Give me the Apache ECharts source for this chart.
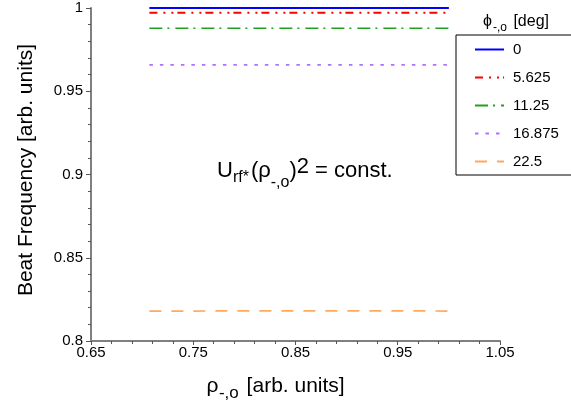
<!DOCTYPE html>
<html>
<head>
<meta charset="utf-8">
<script src="https://cdn.jsdelivr.net/npm/echarts@6/dist/echarts.min.js"></script>
<style>
  html, body { margin: 0; padding: 0; background: #fff; }
  #chart { width: 571px; height: 404px; }
</style>
</head>
<body>
<div id="chart"></div>
<script>
// Radial position rho_{-,o} (arb. units)
const rho = [0.7071, 0.75, 0.8, 0.85, 0.9, 0.95, 1.0];

// Legend entries: phi_{-,o} in degrees
const phiLabels = ['0', '5.625', '11.25', '16.875', '22.5'];

// Beat frequency (arb. units) for each phi, at the rho positions above
const beat0      = [1.0000, 1.0000, 1.0000, 1.0000, 1.0000, 1.0000, 1.0000];
const beat5625   = [0.9972, 0.9972, 0.9972, 0.9972, 0.9972, 0.9972, 0.9972];
const beat1125   = [0.9878, 0.9878, 0.9878, 0.9878, 0.9878, 0.9878, 0.9878];
const beat16875  = [0.9659, 0.9659, 0.9659, 0.9659, 0.9659, 0.9659, 0.9659];
const beat225    = [0.8180, 0.8180, 0.8181, 0.8181, 0.8181, 0.8181, 0.8180];

const FONT = '"Liberation Sans", Arial, Helvetica, "DejaVu Sans", sans-serif';

const seriesStyles = [
  { values: beat0,     color: '#0000ff', width: 2,   dash: 'solid' },
  { values: beat5625,  color: '#ff0000', width: 2,   dash: [8, 6, 2, 6, 2, 4] },
  { values: beat1125,  color: '#20a020', width: 1.5, dash: [13, 5, 2, 6] },
  { values: beat16875, color: '#b070ff', width: 1.8, dash: [3.5, 7] },
  { values: beat225,   color: '#ffa860', width: 1.7, dash: [12, 10] }
];

// Text with sub/superscripts: a row of plain text pieces laid out left to right,
// each piece following the previous one (optionally nudged by dx).
const measureCtx = document.createElement('canvas').getContext('2d');
function textWidth(t, size) {
  measureCtx.font = size + 'px ' + FONT;
  return measureCtx.measureText(t).width;
}
function scriptedText(x, baseline, parts) {
  const children = [];
  let cx = x;
  parts.forEach(p => {
    cx += p.dx || 0;
    children.push({
      type: 'text',
      silent: true,
      style: {
        text: p.t,
        x: cx,
        y: baseline + (p.dy || 0) - 0.3465 * p.s,
        font: p.s + 'px ' + FONT,
        fill: '#000',
        align: 'left',
        verticalAlign: 'middle'
      }
    });
    cx += textWidth(p.t, p.s);
  });
  return { type: 'group', children: children };
}

const chart = echarts.init(document.getElementById('chart'), null, { renderer: 'canvas' });

const axisGray = '#808080';
const tickGray = '#555555';

chart.setOption({
  animation: false,
  backgroundColor: '#ffffff',
  grid: { left: 91, right: 71, top: 8, bottom: 63 },
  xAxis: {
    type: 'value',
    min: 0.65,
    max: 1.05,
    interval: 0.1,
    axisLine: { show: true, lineStyle: { color: axisGray, width: 2 } },
    axisTick: { show: true, length: 4, lineStyle: { color: tickGray, width: 1 } },
    minorTick: { show: true, splitNumber: 5, length: 3, lineStyle: { color: tickGray, width: 1 } },
    splitLine: { show: false },
    axisLabel: {
      fontSize: 15, color: '#000', fontFamily: FONT, margin: 4,
      formatter: v => v.toFixed(2)
    }
  },
  yAxis: {
    type: 'value',
    min: 0.8,
    max: 1.0,
    interval: 0.05,
    axisLine: { show: true, lineStyle: { color: axisGray, width: 2 } },
    axisTick: { show: true, length: 5, lineStyle: { color: tickGray, width: 1 } },
    minorTick: { show: true, splitNumber: 5, length: 3, lineStyle: { color: tickGray, width: 1 } },
    splitLine: { show: false },
    axisLabel: {
      fontSize: 15, color: '#000', fontFamily: FONT, margin: 8,
      formatter: v => String(+v.toFixed(2))
    },
    name: 'Beat Frequency [arb. units]',
    nameLocation: 'middle',
    nameGap: 54,
    nameTextStyle: { fontSize: 21, color: '#000', fontFamily: FONT, padding: [0, 0, 0, 9] }
  },
  legend: {
    orient: 'vertical',
    left: 456,
    top: 35,
    itemWidth: 29,
    itemHeight: 14,
    itemGap: 13,
    padding: [7, 30, 6, 18],
    borderColor: '#000',
    borderWidth: 1,
    backgroundColor: '#fff',
    // line samples only, no marker on them
    itemStyle: { color: 'rgba(0,0,0,0)', borderColor: 'rgba(0,0,0,0)', borderWidth: 0, opacity: 0 },
    textStyle: { fontSize: 15, color: '#000', fontFamily: FONT, padding: [0, 0, 0, 4] },
    data: phiLabels
  },
  series: seriesStyles.map((s, i) => ({
    name: phiLabels[i],
    type: 'line',
    symbol: 'none',
    data: rho.map((r, k) => [r, s.values[k]]),
    lineStyle: { color: s.color, width: s.width, type: s.dash, cap: 'butt' },
    itemStyle: { color: s.color },
    z: 10 - i
  })),
  graphic: [
    // x-axis title: rho_{-,o} [arb. units]
    scriptedText(206.5, 393, [
      { t: 'ρ', s: 21 },
      { t: '-,o', s: 17, dy: 6, dx: 0.5 },
      { t: ' [arb. units]', s: 21, dx: 2 }
    ]),
    // legend title: phi_{-,o} [deg]
    scriptedText(483, 27.5, [
      { t: 'ϕ', s: 16 },
      { t: '-,o', s: 12, dy: 4, dx: 1 },
      { t: ' [deg]', s: 16, dx: 2 }
    ]),
    // annotation: U_rf*(rho_{-,o})^2 = const.
    scriptedText(217, 179, [
      { t: 'U', s: 22 },
      { t: 'rf*', s: 16, dy: 4 },
      { t: '(ρ', s: 22, dx: 2 },
      { t: '-,o', s: 16, dy: 9 },
      { t: ')', s: 22 },
      { t: '2', s: 22, dy: -4 },
      { t: ' = const.', s: 22 }
    ])
  ]
});
</script>
</body>
</html>
